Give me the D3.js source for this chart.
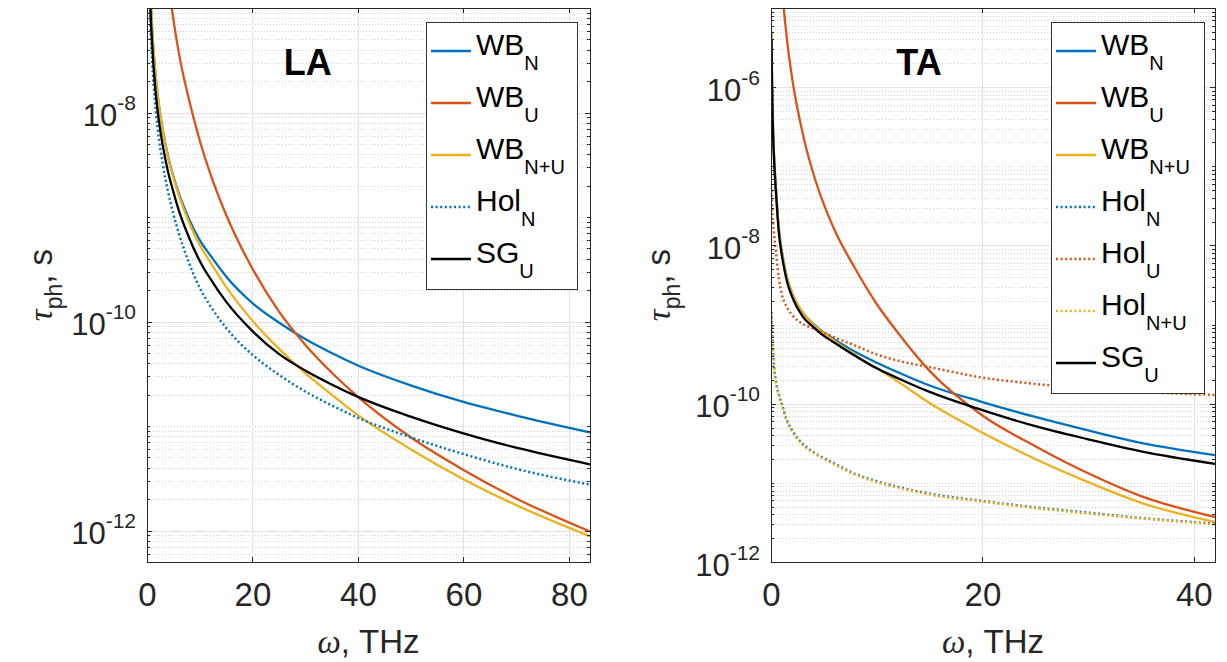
<!DOCTYPE html>
<html>
<head>
<meta charset="utf-8">
<style>
  body { margin: 0; background: #fff; }
  svg { font-family: "Liberation Sans", Arial, Helvetica, sans-serif; }
  .grid-major { stroke: #e2e2e2; stroke-width: 1; }
  .grid-minor { stroke: #d0d0d0; stroke-width: 1; stroke-dasharray: 1,2; }
  .frame { fill: none; stroke: #262626; stroke-width: 1; }
  .tick-mark { stroke: #262626; stroke-width: 1; }
</style>
</head>
<body>
<svg width="1227" height="662"></svg>
<script src="https://cdn.jsdelivr.net/npm/d3@7"></script>
<script>
var svg = d3.select("svg");

// ---------- LA (left panel) ----------
var laOmega = [0.3, 0.5, 0.75, 1, 1.5, 2, 3, 4, 5, 6, 8, 10, 12, 15, 20, 25, 30, 35, 40, 50, 60, 70, 84];
var laWbN   = [6.8e-7, 2.5e-7, 1.07e-7, 6.0e-8, 2.7e-8, 1.5e-8, 6.8e-9, 3.8e-9, 2.45e-9, 1.7e-9, 9.5e-10, 6.0e-10, 4.3e-10, 2.7e-10, 1.5e-10, 9.8e-11, 6.8e-11, 5.0e-11, 3.8e-11, 2.45e-11, 1.7e-11, 1.26e-11, 8.7e-12];
var laWbU   = [6.0e-3, 7.8e-4, 1.54e-4, 4.9e-5, 9.6e-6, 3.05e-6, 6.0e-7, 1.9e-7, 7.8e-8, 3.8e-8, 1.3e-8, 5.4e-9, 2.6e-9, 1.05e-9, 3.2e-10, 1.25e-10, 6.0e-11, 3.25e-11, 1.9e-11, 7.8e-12, 3.8e-12, 2.03e-12, 9.8e-13];
var laWbNU  = [6.8e-7, 2.5e-7, 1.07e-7, 6.0e-8, 2.7e-8, 1.5e-8, 6.7e-9, 3.7e-9, 2.38e-9, 1.63e-9, 8.8e-10, 5.4e-10, 3.7e-10, 2.15e-10, 1.02e-10, 5.5e-11, 3.2e-11, 2.0e-11, 1.27e-11, 6.0e-12, 3.1e-12, 1.75e-12, 8.8e-13];
var laHolN  = [3.2e-7, 1.17e-7, 5.2e-8, 2.95e-8, 1.29e-8, 7.2e-9, 3.2e-9, 1.74e-9, 1.07e-9, 7.1e-10, 3.6e-10, 2.1e-10, 1.41e-10, 8.7e-11, 4.8e-11, 3.1e-11, 2.14e-11, 1.58e-11, 1.2e-11, 7.8e-12, 5.4e-12, 3.9e-12, 2.75e-12];
var laSgU   = [4.7e-7, 1.7e-7, 7.6e-8, 4.3e-8, 1.86e-8, 1.05e-8, 4.8e-9, 2.7e-9, 1.74e-9, 1.17e-9, 6.3e-10, 3.8e-10, 2.57e-10, 1.55e-10, 8.1e-11, 4.9e-11, 3.4e-11, 2.5e-11, 1.9e-11, 1.23e-11, 8.5e-12, 6.2e-12, 4.3e-12];
var laTicksX = [0, 20, 40, 60, 80];
var laTicksY = [1e-12, 1e-10, 1e-8];

// ---------- TA (right panel) ----------
var taOmega = [0.05, 0.1, 0.2, 0.3, 0.5, 0.75, 1, 1.5, 2, 3, 4, 5, 6, 8, 10, 12, 15, 20, 25, 30, 35, 42];
var taWbN   = [5.0e-6, 1.12e-6, 2.8e-7, 1.26e-7, 4.5e-8, 1.58e-8, 8.9e-9, 4.0e-9, 2.5e-9, 1.41e-9, 1.02e-9, 7.9e-10, 6.5e-10, 4.5e-10, 3.3e-10, 2.5e-10, 1.7e-10, 1.05e-10, 6.8e-11, 4.6e-11, 3.2e-11, 2.24e-11];
var taWbU   = [3.3, 0.21, 1.3e-2, 2.6e-3, 3.3e-4, 6.6e-5, 2.1e-5, 4.1e-6, 1.29e-6, 2.6e-7, 8.1e-8, 3.3e-8, 1.58e-8, 5.0e-9, 1.82e-9, 7.9e-10, 2.6e-10, 7.1e-11, 2.9e-11, 1.32e-11, 6.8e-12, 3.7e-12];
var taWbNU  = [5.0e-6, 1.12e-6, 2.8e-7, 1.26e-7, 4.5e-8, 1.58e-8, 8.9e-9, 4.0e-9, 2.5e-9, 1.41e-9, 1.0e-9, 7.8e-10, 6.2e-10, 4.1e-10, 2.8e-10, 1.9e-10, 1.02e-10, 4.3e-11, 2.0e-11, 1.02e-11, 5.6e-12, 3.2e-12];
var taHolN  = [1.45e-9, 8.1e-10, 4.6e-10, 2.85e-10, 1.8e-10, 1.29e-10, 1.02e-10, 6.2e-11, 4.6e-11, 3.1e-11, 2.45e-11, 2.05e-11, 1.75e-11, 1.29e-11, 1.05e-11, 8.9e-12, 7.3e-12, 5.9e-12, 4.9e-12, 4.2e-12, 3.6e-12, 3.05e-12];
var taHolU  = [5.0e-8, 3.2e-8, 1.9e-8, 1.35e-8, 7.4e-9, 3.8e-9, 2.5e-9, 1.66e-9, 1.32e-9, 1.02e-9, 8.9e-10, 7.9e-10, 6.9e-10, 5.4e-10, 4.2e-10, 3.5e-10, 2.9e-10, 2.14e-10, 1.78e-10, 1.55e-10, 1.41e-10, 1.29e-10];
var taHolNU = [1.41e-9, 7.9e-10, 4.5e-10, 2.8e-10, 1.78e-10, 1.26e-10, 1.0e-10, 6.0e-11, 4.5e-11, 3.0e-11, 2.4e-11, 2.0e-11, 1.7e-11, 1.26e-11, 1.02e-11, 8.7e-12, 7.1e-12, 5.8e-12, 4.8e-12, 4.1e-12, 3.55e-12, 3.0e-12];
var taSgU   = [4.0e-6, 1.0e-6, 2.5e-7, 1.12e-7, 4.0e-8, 1.41e-8, 7.9e-9, 3.55e-9, 2.24e-9, 1.26e-9, 9.3e-10, 7.2e-10, 5.9e-10, 4.0e-10, 2.8e-10, 2.1e-10, 1.41e-10, 8.3e-11, 5.2e-11, 3.55e-11, 2.5e-11, 1.74e-11];
var taTicksX = [0, 20, 40];
var taTicksY = [1e-12, 1e-10, 1e-8, 1e-6];

var cBlue = "#0072BD", cRed = "#D95319", cYellow = "#EDB120", cBlack = "#000000";

function panel(o) {
  var g = svg.append("g");
  var x = d3.scaleLinear().domain([0, o.xMax]).range([o.x0, o.x1]);
  var y = d3.scaleLog().domain(o.yDomain).range([o.y1, o.y0]);

  // minor / major horizontal grid (log)
  var lo = Math.floor(Math.log10(o.yDomain[0])), hi = Math.ceil(Math.log10(o.yDomain[1]));
  var minor = [];
  d3.range(lo, hi + 1).forEach(function(k) {
    d3.range(1, 10).forEach(function(m) {
      var v = m * Math.pow(10, k);
      if (v >= o.yDomain[0] * 0.999 && v <= o.yDomain[1] * 1.001) minor.push(v);
    });
  });
  var isMajor = function(v) { return o.yTicks.some(function(t) { return Math.abs(v / t - 1) < 1e-6; }); };

  g.selectAll(".gmin").data(minor.filter(function(v) { return !isMajor(v); })).enter()
    .append("line").attr("class", "grid-minor")
    .attr("x1", o.x0).attr("x2", o.x1)
    .attr("y1", function(d) { return Math.round(y(d)) + 0.5; })
    .attr("y2", function(d) { return Math.round(y(d)) + 0.5; });
  g.selectAll(".gmaj").data(o.yTicks).enter()
    .append("line").attr("class", "grid-major")
    .attr("x1", o.x0).attr("x2", o.x1)
    .attr("y1", function(d) { return Math.round(y(d)) + 0.5; })
    .attr("y2", function(d) { return Math.round(y(d)) + 0.5; });
  g.selectAll(".gx").data(o.xTicks).enter()
    .append("line").attr("class", "grid-major")
    .attr("y1", o.y0).attr("y2", o.y1)
    .attr("x1", function(d) { return Math.round(x(d)) + 0.5; })
    .attr("x2", function(d) { return Math.round(x(d)) + 0.5; });

  // curves
  var clipId = "clip" + o.id;
  svg.append("clipPath").attr("id", clipId).append("rect")
    .attr("x", o.x0).attr("y", o.y0).attr("width", o.x1 - o.x0).attr("height", o.y1 - o.y0);
  var line = d3.line()
    .x(function(d) { return x(d[0]); })
    .y(function(d) { return y(d[1]); })
    .curve(d3.curveMonotoneX);
  var lines = g.append("g").attr("clip-path", "url(#" + clipId + ")");
  o.series.forEach(function(s) {
    lines.append("path")
      .attr("d", line(d3.zip(o.omega, s.vals)))
      .attr("fill", "none")
      .attr("stroke", s.color)
      .attr("stroke-width", s.dotted ? 2.5 : 2.3)
      .attr("stroke-dasharray", s.dotted ? "2,2.6" : null);
  });

  // frame and tick marks
  g.append("rect").attr("class", "frame")
    .attr("x", o.x0 + 0.5).attr("y", o.y0 + 0.5)
    .attr("width", o.x1 - o.x0).attr("height", o.y1 - o.y0);
  minor.forEach(function(v) {
    var len = isMajor(v) ? 5 : 3, yy = Math.round(y(v)) + 0.5;
    g.append("line").attr("class", "tick-mark").attr("x1", o.x0).attr("x2", o.x0 + len).attr("y1", yy).attr("y2", yy);
    g.append("line").attr("class", "tick-mark").attr("x1", o.x1).attr("x2", o.x1 - len).attr("y1", yy).attr("y2", yy);
  });
  o.xTicks.forEach(function(v) {
    var xx = Math.round(x(v)) + 0.5;
    g.append("line").attr("class", "tick-mark").attr("x1", xx).attr("x2", xx).attr("y1", o.y1).attr("y2", o.y1 - 5);
    g.append("line").attr("class", "tick-mark").attr("x1", xx).attr("x2", xx).attr("y1", o.y0).attr("y2", o.y0 + 5);
  });

  // x tick labels
  g.append("g").attr("transform", "translate(0," + o.y1 + ")")
    .call(d3.axisBottom(x).tickValues(o.xTicks).tickSize(0).tickPadding(21).tickFormat(d3.format("d")))
    .call(function(a) { a.select(".domain").remove(); })
    .attr("font-size", 33).attr("font-family", null)
    .selectAll("text").attr("fill", "#262626");

  // y tick labels 10^n
  var ya = g.append("g").attr("transform", "translate(" + o.x0 + ",0)")
    .call(d3.axisLeft(y).tickValues(o.yTicks).tickSize(0).tickPadding(11).tickFormat(function() { return ""; }))
    .call(function(a) { a.select(".domain").remove(); })
    .attr("font-size", 31).attr("font-family", null);
  ya.selectAll(".tick text").attr("dy", 13).attr("fill", "#262626").each(function(d) {
    var t = d3.select(this);
    t.append("tspan").text("10");
    t.append("tspan").attr("font-size", 21).attr("dy", -16).text(String(Math.round(Math.log10(d))));
  });

  // axis titles
  g.append("text")
    .attr("transform", "translate(" + o.yLabelX + "," + ((o.y0 + o.y1) / 2) + ") rotate(-90)")
    .attr("text-anchor", "middle").attr("font-size", 33).attr("fill", "#262626")
    .call(function(t) {
      t.append("tspan").attr("font-family", "'Liberation Serif', serif").attr("font-style", "italic").text("\u03C4");
      t.append("tspan").attr("font-size", 23).attr("dy", 10).text("ph");
      t.append("tspan").attr("dy", -10).text(", s");
    });
  g.append("text")
    .attr("x", (o.x0 + o.x1) / 2).attr("y", 653)
    .attr("text-anchor", "middle").attr("font-size", 33).attr("fill", "#262626")
    .call(function(t) {
      t.append("tspan").attr("font-family", "'Liberation Serif', serif").attr("font-style", "italic").text("\u03C9");
      t.append("tspan").text(", THz");
    });

  // panel title
  g.append("text").attr("x", x(o.titleAt)).attr("y", 75)
    .attr("text-anchor", "middle").attr("font-size", 36).attr("font-weight", "bold")
    .text(o.title);

  // legend
  var L = o.legend;
  var n = o.series.length;
  g.append("rect").attr("x", L.x + 0.5).attr("y", 22.5)
    .attr("width", L.w).attr("height", 52 * n + 7)
    .attr("fill", "#fff").attr("stroke", "#333").attr("stroke-width", 1);
  o.series.forEach(function(s, i) {
    var ry = 51 + 52 * i;
    g.append("line").attr("x1", L.x + 5).attr("x2", L.x + 45).attr("y1", ry).attr("y2", ry)
      .attr("stroke", s.color).attr("stroke-width", s.dotted ? 2.5 : 2.3)
      .attr("stroke-dasharray", s.dotted ? "2,2.6" : null);
    var t = g.append("text").attr("x", L.x + 50).attr("y", ry + 4).attr("font-size", 30).attr("fill", "#000");
    t.append("tspan").text(s.name);
    t.append("tspan").attr("font-size", 20).attr("dy", 15).text(s.sub);
  });
}

panel({
  id: "la", x0: 147, x1: 590, y0: 8, y1: 562,
  xMax: 84, yDomain: [5e-13, 1e-7],
  xTicks: laTicksX, yTicks: laTicksY, omega: laOmega,
  yLabelX: 52, title: "LA", titleAt: 30.5,
  legend: { x: 426, w: 151 },
  series: [
    { name: "WB", sub: "N",   vals: laWbN,  color: cBlue },
    { name: "WB", sub: "U",   vals: laWbU,  color: cRed },
    { name: "WB", sub: "N+U", vals: laWbNU, color: cYellow },
    { name: "Hol", sub: "N",  vals: laHolN, color: cBlue, dotted: true },
    { name: "SG", sub: "U",   vals: laSgU,  color: cBlack }
  ]
});

panel({
  id: "ta", x0: 771, x1: 1215, y0: 8, y1: 562,
  xMax: 42, yDomain: [1e-12, 1e-5],
  xTicks: taTicksX, yTicks: taTicksY, omega: taOmega,
  yLabelX: 670, title: "TA", titleAt: 14,
  legend: { x: 1051, w: 153 },
  series: [
    { name: "WB", sub: "N",    vals: taWbN,   color: cBlue },
    { name: "WB", sub: "U",    vals: taWbU,   color: cRed },
    { name: "WB", sub: "N+U",  vals: taWbNU,  color: cYellow },
    { name: "Hol", sub: "N",   vals: taHolN,  color: cBlue, dotted: true },
    { name: "Hol", sub: "U",   vals: taHolU,  color: cRed, dotted: true },
    { name: "Hol", sub: "N+U", vals: taHolNU, color: cYellow, dotted: true },
    { name: "SG", sub: "U",    vals: taSgU,   color: cBlack }
  ]
});
</script>
</body>
</html>
